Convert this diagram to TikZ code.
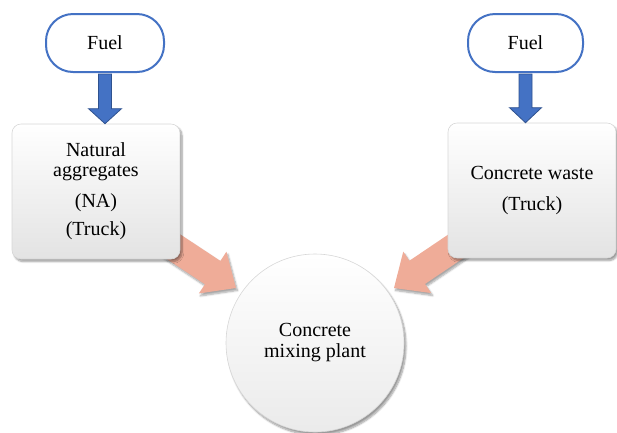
\documentclass[tikz,border=0pt]{standalone}
\usepackage{fontspec}
\setmainfont{Liberation Serif}
\usetikzlibrary{calc,shadows.blur}
\pgfdeclarelayer{bg}
\pgfsetlayers{bg,main}
\definecolor{fuelblue}{RGB}{68,114,196}
\definecolor{fueledge}{RGB}{47,82,143}
\definecolor{salmon}{RGB}{239,172,152}
\definecolor{boxedge}{RGB}{215,215,215}
\newcommand{\fatarrow}[6]{%
  \path[#6] let \p1=($(#2)-(#1)$), \n1={atan2(\y1,\x1)} in
    ($(#1)+(\n1+90:#3)$) --
    ($(#2)+(\n1+180:#5)+(\n1+90:#3)$) --
    ($(#2)+(\n1+180:#5)+(\n1+90:#4)$) --
    (#2) --
    ($(#2)+(\n1+180:#5)+(\n1-90:#4)$) --
    ($(#2)+(\n1+180:#5)+(\n1-90:#3)$) --
    ($(#1)+(\n1-90:#3)$) -- cycle;}
\tikzset{
  txt/.style={font=\fontsize{20}{24}\selectfont, align=center, text=black},
  fuelbox/.style={txt, draw=fuelblue, line width=2pt, fill=white, rounded corners=27pt,
    minimum height=58pt, inner sep=0pt},
  srcbox/.style={txt, draw=boxedge, line width=0.6pt, rounded corners=9pt,
    top color=white, middle color=white, bottom color=gray!22,
    minimum width=168pt, minimum height=135pt, inner sep=0pt,
    blur shadow={shadow xshift=2pt, shadow yshift=-2.5pt, shadow blur steps=8, shadow opacity=40}},
  plantnode/.style={txt, circle, draw=boxedge, line width=0.6pt,
    top color=white, middle color=white, bottom color=gray!16,
    minimum size=178pt, inner sep=0pt,
    blur shadow={shadow xshift=2pt, shadow yshift=-3pt, shadow blur steps=8, shadow opacity=40}},
  bluearrow/.style={fill=fuelblue, draw=fueledge, line width=0.8pt, line join=miter},
  salmonarrow/.style={fill=salmon,
    blur shadow={shadow xshift=1.5pt, shadow yshift=-2.5pt, shadow blur steps=6, shadow opacity=35}},
}
\begin{document}
\begin{tikzpicture}[x=1pt,y=-1pt]
\useasboundingbox (0,0) rectangle (617,432);
% nodes
\node[fuelbox, minimum width=118pt] (fuelL) at (105,43) {Fuel};
\node[fuelbox, minimum width=115pt] (fuelR) at (525.5,43) {Fuel};
\node[srcbox] (na) at (96,191.5) {Natural\\[-4pt]aggregates\\[7pt](NA)\\[4pt](Truck)};
\node[srcbox] (cw) at (532,190.5) {Concrete waste\\[6pt](Truck)};
\node[plantnode] (plant) at (315,343) {Concrete\\[-3pt]mixing plant};
% blue arrows
\coordinate (tipL) at (fuelL.south |- na.north);
\coordinate (tipR) at (fuelR.south |- cw.north);
\coordinate (tailL) at ($(fuelL.south)+(0,1)$);
\coordinate (tailR) at ($(fuelR.south)+(0,1)$);
\fatarrow{tailL}{tipL}{6.5pt}{16.5pt}{15pt}{bluearrow}
\fatarrow{tailR}{tipR}{6.5pt}{16pt}{15pt}{bluearrow}
% salmon arrows
\begin{pgfonlayer}{bg}
\coordinate (sL) at ($(na.south east)+(-15,-18)$);
\coordinate (eL) at ($(plant.center)+(-79,-55)$);
\coordinate (sR) at ($(cw.south west)+(17,-18)$);
\coordinate (eR) at ($(plant.center)+(79,-55)$);
\fatarrow{sL}{eL}{14pt}{25pt}{28pt}{salmonarrow}
\fatarrow{sR}{eR}{14pt}{25pt}{28pt}{salmonarrow}
\end{pgfonlayer}
\end{tikzpicture}
\end{document}
